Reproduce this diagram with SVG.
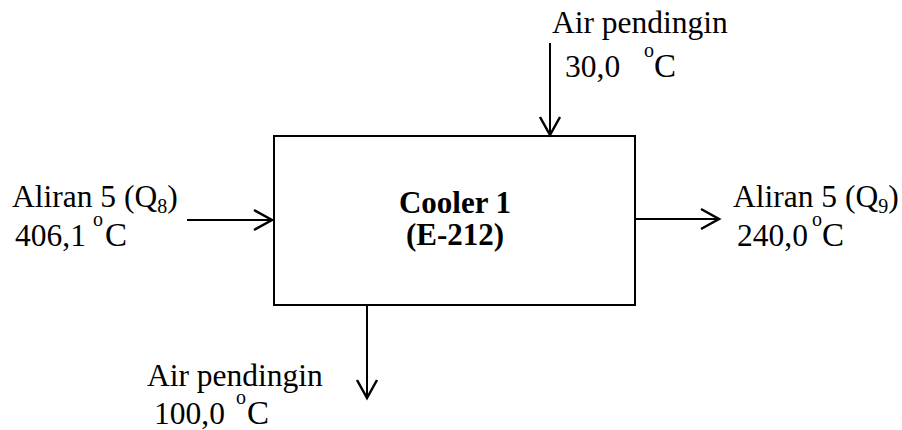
<svg xmlns="http://www.w3.org/2000/svg" width="902" height="430" viewBox="0 0 902 430">
<defs>
<style>
.t{font-family:"Liberation Serif","Times New Roman",serif;font-size:31.5px;fill:#000}
.b{font-weight:bold;font-size:31px}
.sup{font-size:20px}
.sub{font-size:20px}
.c{font-size:33px}
.ln{stroke:#000;stroke-width:2;fill:none}
</style>
<marker id="ah" markerUnits="userSpaceOnUse" markerWidth="24" markerHeight="26" viewBox="-20 -12 24 24" refX="0" refY="0" orient="auto">
<path d="M-18,-10 L0,0 L-18,10" fill="none" stroke="#000" stroke-width="2.5"/>
</marker>
</defs>
<rect width="902" height="430" fill="#fff"/>
<g id="cooler">
<rect x="274" y="136" width="361" height="169" class="ln"/>
<text class="t b" x="455" y="213" text-anchor="middle">Cooler 1</text>
<text class="t b" x="455" y="245" text-anchor="middle">(E-212)</text>
</g>
<g id="in-left">
<text class="t" x="12" y="206.5">Aliran 5 (Q<tspan class="sub" dy="6.5">8</tspan><tspan dy="-6.5">)</tspan></text>
<text class="t" x="15" y="246">406,1<tspan class="sup" x="93" dy="-20">o</tspan><tspan class="c" x="105" dy="20">C</tspan></text>
</g>
<g id="in-top">
<text class="t" x="552" y="33">Air pendingin</text>
<text class="t" x="565" y="77">30,0<tspan class="sup" x="644" dy="-20">o</tspan><tspan class="c" x="654" dy="20">C</tspan></text>
</g>
<g id="out-right">
<text class="t" x="733" y="206.5">Aliran 5 (Q<tspan class="sub" dy="6.5">9</tspan><tspan dy="-6.5">)</tspan></text>
<text class="t" x="737" y="246">240,0<tspan class="sup" x="812" dy="-20">o</tspan><tspan class="c" x="822" dy="20">C</tspan></text>
</g>
<g id="out-bottom">
<text class="t" x="147" y="386">Air pendingin</text>
<text class="t" x="154" y="424">100,0<tspan class="sup" x="236" dy="-20">o</tspan><tspan class="c" x="247" dy="20">C</tspan></text>
</g>
<g id="connectors">
<line x1="187" y1="220" x2="272" y2="220" class="ln" marker-end="url(#ah)"/>
<line x1="550" y1="43" x2="550" y2="135" class="ln" marker-end="url(#ah)"/>
<line x1="636" y1="219" x2="719" y2="219" class="ln" marker-end="url(#ah)"/>
<line x1="367" y1="306" x2="367" y2="398" class="ln" marker-end="url(#ah)"/>
</g>
</svg>
